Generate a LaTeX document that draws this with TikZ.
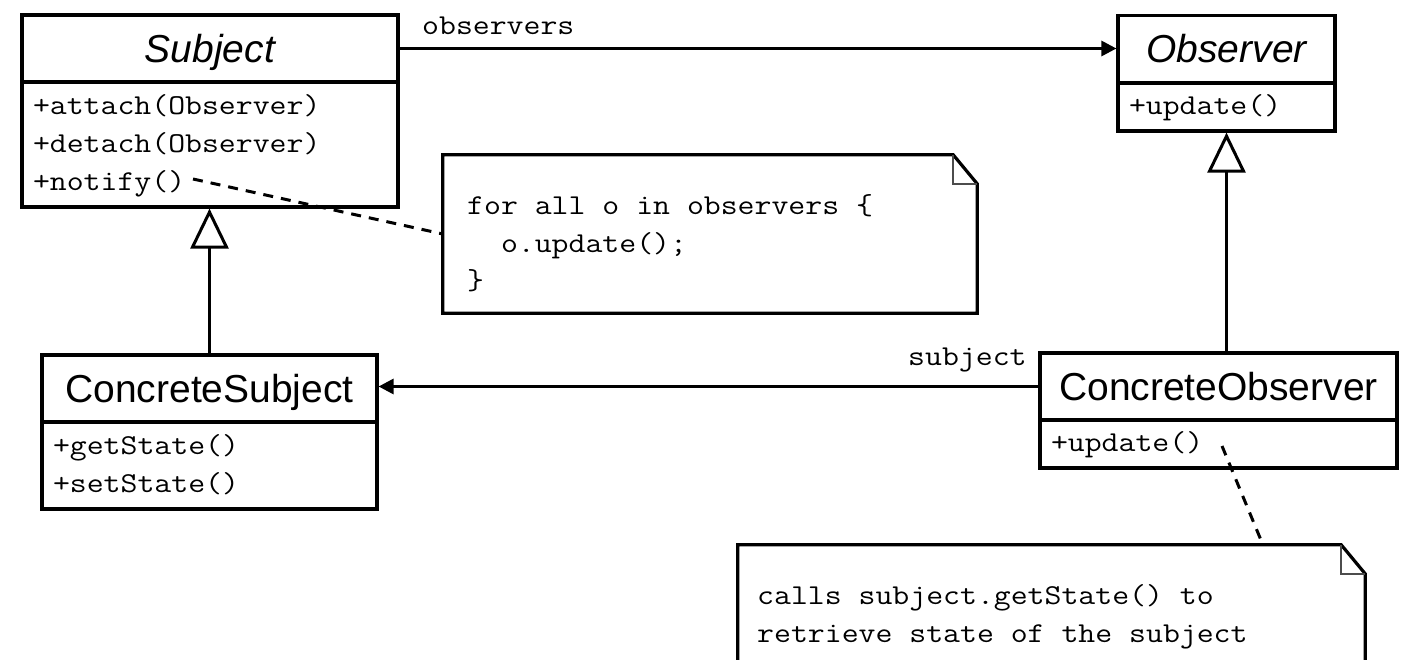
\documentclass[tikz,border=0pt]{standalone}
\usepackage{fontspec}
\setmainfont{Liberation Sans}
\newfontfamily\umlmono[FakeStretch=1.14]{Latin Modern Mono}
\usetikzlibrary{arrows.meta}

\tikzset{
  classbox/.style={draw, line width=3.2pt, rectangle, inner sep=0pt},
  classtitle/.style={classbox, font=\fontsize{39}{44}\selectfont, text height=28pt, text depth=0pt, minimum height=67pt},
  classops/.style={classbox, font=\fontsize{28.8}{38}\selectfont\umlmono, align=left, inner xsep=11pt, inner ysep=0pt},
  notebox/.style={rectangle, inner sep=0pt},
  noteline/.style={line width=3.2pt, line join=miter},
  foldline/.style={line width=1.6pt, black!70},
  notetext/.style={font=\fontsize{28.8}{37.5}\selectfont\umlmono, align=left, anchor=north west, inner sep=0pt},
  lbl/.style={font=\fontsize{28.8}{38}\selectfont\umlmono, inner sep=0pt},
  assoc/.style={line width=3pt, -{Triangle[length=15pt,width=15pt]}},
  inherit/.style={line width=3pt, -{Triangle[open,length=40pt,width=38pt,fill=white]}},
  dashlink/.style={line width=3pt, dash pattern=on 10pt off 8pt},
}

\begin{document}
\begin{tikzpicture}[x=1pt, y=-1pt]
\useasboundingbox (0,0) rectangle (1419,660);
\clip (0,0) rectangle (1419,660);

% Subject
\node[classtitle, minimum width=376pt] (subjT) at (210,48.5) {\itshape Subject};
\node[classops, text width=354pt, minimum height=125pt] (subjM) at (210,144.5)
  {\strut+attach(Observer)\\\strut+detach(Observer)\\\strut+notify()};

% Observer
\node[classtitle, minimum width=217pt] (obsT) at (1226.5,49) {\itshape Observer};
\node[classops, text width=195pt, minimum height=48pt] (obsM) at (1226.5,107)
  {\strut+update()};

% ConcreteSubject
\node[classtitle, minimum width=335pt] (csT) at (209.5,388.5) {ConcreteSubject};
\node[classops, text width=313pt, minimum height=87pt] (csM) at (209.5,465.5)
  {\strut+getState()\\\strut+setState()};

% ConcreteObserver
\node[classtitle, minimum width=357pt] (coT) at (1218.5,386.5) {ConcreteObserver};
\node[classops, text width=335pt, minimum height=48pt] (coM) at (1218.5,444)
  {\strut+update()};

% Note 1
\node[notebox, minimum width=534pt, minimum height=158pt] (n1) at (710,234) {};
\draw[noteline] (n1.north west) -- ([xshift=-24pt]n1.north east) -- ([yshift=-29pt]n1.north east)
  -- (n1.south east) -- (n1.south west) -- cycle;
\draw[foldline] ([xshift=-24pt]n1.north east) -- ++(0,29) -- ++(24,0);
\node[notetext] (n1t) at (467,188.4)
  {\strut for all o in observers \{\\\strut\ \ o.update();\\\strut\}};

% Note 2
\node[notebox, minimum width=627pt, minimum height=140pt] (n2) at (1051.5,615) {};
\draw[noteline] (n2.north west) -- ([xshift=-24pt]n2.north east) -- ([yshift=-29pt]n2.north east)
  -- (n2.south east) -- (n2.south west) -- cycle;
\draw[foldline] ([xshift=-24pt]n2.north east) -- ++(0,29) -- ++(24,0);
\node[notetext] (n2t) at (757,578.4)
  {\strut calls subject.getState() to\\\strut retrieve state of the subject};

% labels
\node[lbl, anchor=base west] (lobs) at (422,35) {observers};
\node[lbl, anchor=base west] (lsub) at (908,365) {subject};

% associations
\draw[assoc] (subjT.east) -- (subjT.east -| obsT.west);
\draw[assoc] (coT.west) -- (coT.west -| csT.east);

% generalisations
\draw[inherit] (csT.north) -- (csT.north |- subjM.south);
\draw[inherit] (obsM.south |- coT.north) -- (obsM.south);

% note links
\coordinate (notifyend) at (193,179);
\coordinate (updend) at (1222,446);
\coordinate (n2hook) at (1263,545);
\draw[dashlink] (notifyend) -- (n1.west);
\draw[dashlink] (updend) -- (n2hook);
\end{tikzpicture}
\end{document}
